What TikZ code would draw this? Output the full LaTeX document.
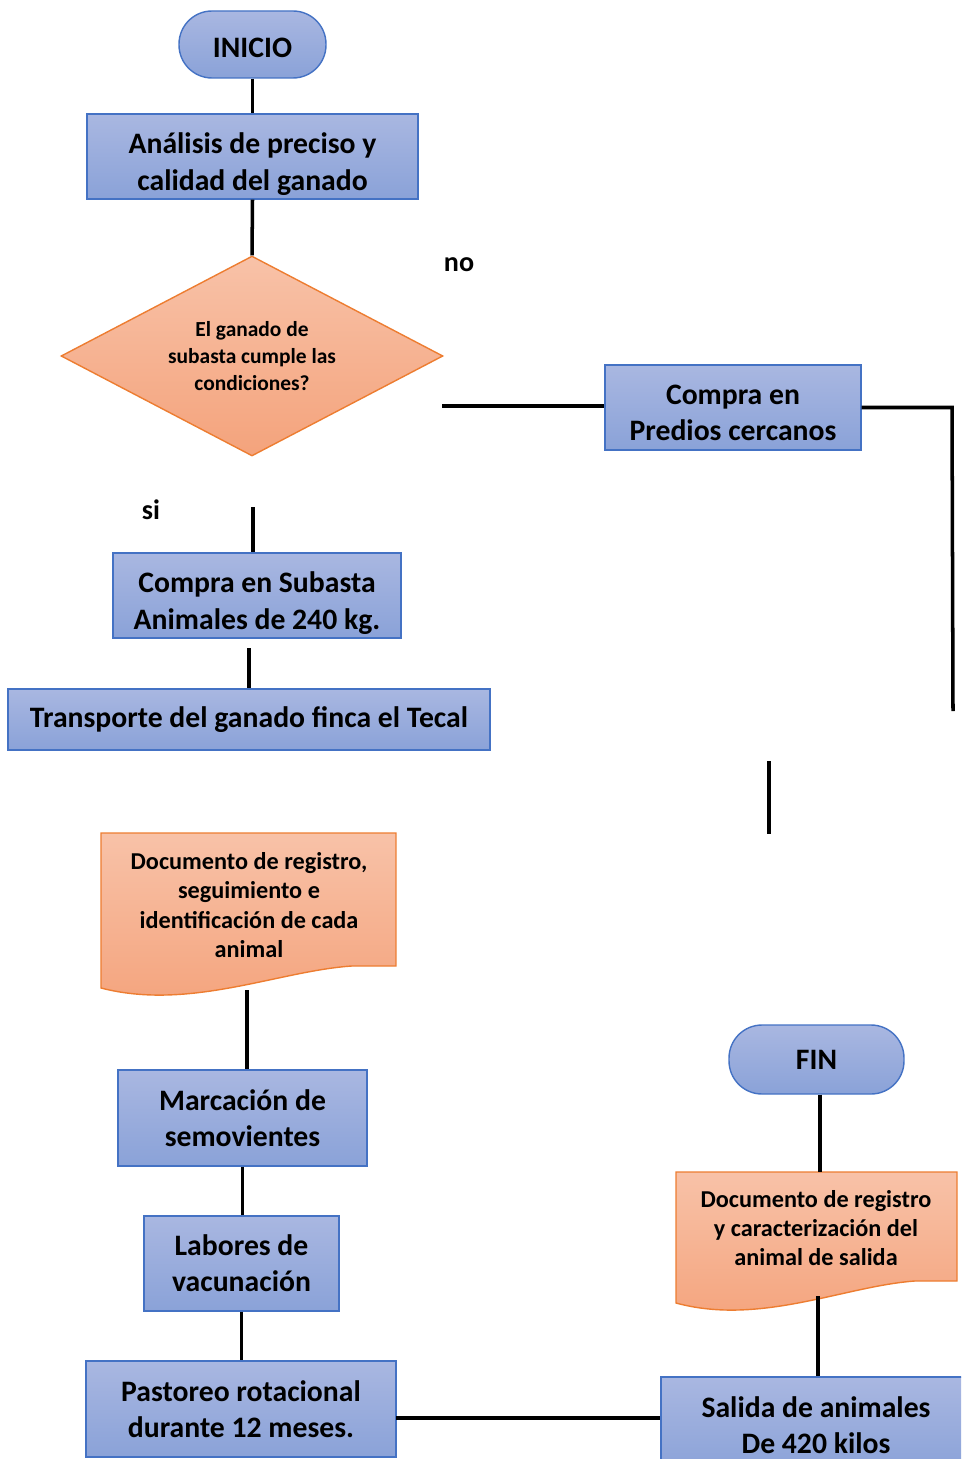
\documentclass[tikz,border=0pt]{standalone}
\usepackage{fontspec}
\setmainfont{Carlito}
\usepackage{tikz}
\usetikzlibrary{calc}
\usetikzlibrary{shapes.geometric}
\definecolor{bluetop}{HTML}{A9B7E1}
\definecolor{bluebot}{HTML}{8AA2D8}
\definecolor{blueline}{HTML}{4472C4}
\definecolor{ortop}{HTML}{F8C2A8}
\definecolor{orbot}{HTML}{F4A37C}
\definecolor{orline}{HTML}{ED7D31}
\newcommand{\boxfont}{\bfseries\fontsize{16.9}{20.6}\selectfont}
\newcommand{\docfont}{\bfseries\fontsize{13.8}{16.6}\selectfont}
\newcommand{\lift}[1][20.5pt]{\rule{0pt}{#1}}
\newcommand{\docshape}[4]{ \shadedraw[docfill] ( #1 , #2 ) -- ( #3 , #2 ) -- ( #3 , #4 ) -- ( {#1+0.85*(#3-#1)} , #4 ) .. controls ( {#1+0.6*(#3-#1)} , {#4+5} ) and ( {#1+0.3*(#3-#1)} , {#4+45} ) .. ( #1 , {#4+22} ) -- cycle;}
\tikzset{
  procbox/.style={rectangle, draw=blueline, line width=0.8pt, top color=bluetop, bottom color=bluebot, font=\boxfont, align=center, inner sep=0pt},
  termbox/.style={procbox, rounded corners=0.66cm},
  decbox/.style={diamond, draw=orline, line width=0.8pt, top color=ortop, bottom color=orbot, font=\bfseries\fontsize{12.2}{15.3}\selectfont, align=center, inner sep=0pt, aspect=1.91},
  docfill/.style={draw=orline, line width=0.8pt, top color=ortop, bottom color=orbot},
  doctext/.style={font=\docfont, align=center, inner sep=0pt},
  link/.style={line width=2pt, black},
  branchlbl/.style={font=\bfseries\fontsize{16}{19}\selectfont, inner sep=0pt}
}
\begin{document}
\begin{tikzpicture}[x=0.02cm, y=-0.02cm]
        \path[use as bounding box, clip] (0,0) rectangle (961,1459);

        % left column
        \node[termbox, minimum width=2.94cm, minimum height=1.34cm] (inicio) at (252.5,44.5) {\lift[15pt]INICIO};
        \node[procbox, minimum width=6.62cm, minimum height=1.70cm] (analisis) at (252.5,156.5) {\lift Análisis de preciso y\\ calidad del ganado};
        \node[decbox, minimum width=7.64cm, minimum height=4cm] (cond) at (252,356) {El ganado de\\ subasta cumple las\\ condiciones?};
        \node[procbox, minimum width=5.76cm, minimum height=1.70cm] (subasta) at (257,595.5) {\lift Compra en Subasta\\ Animales de 240 kg.};
        \node[procbox, minimum width=9.64cm, minimum height=1.22cm] (transporte) at (249,719.5) {Transporte del ganado finca el Tecal};
        \docshape{101}{833}{396}{966}
        \node[doctext] (registro) at (249,905) {Documento de registro,\\ seguimiento e\\ identificación de cada\\ animal};
        \node[procbox, minimum width=4.98cm, minimum height=1.92cm] (marcacion) at (242.5,1118) {Marcación de\\ semovientes};
        \node[procbox, minimum width=3.90cm, minimum height=1.90cm] (labores) at (241.5,1263.5) {Labores de\\ vacunación};
        \node[procbox, minimum width=6.20cm, minimum height=1.92cm] (pastoreo) at (241,1409) {Pastoreo rotacional\\ durante 12 meses.};

        % right column
        \node[procbox, minimum width=5.12cm, minimum height=1.70cm] (predios) at (733,407.5) {\lift[17pt]Compra en\\ Predios cercanos};
        \node[termbox, minimum width=3.50cm, minimum height=1.38cm] (fin) at (816.5,1059.5) {FIN};
        \docshape{676}{1172}{957}{1281}
        \node[doctext] (caracter) at (816,1228) {Documento de registro\\ y caracterización del\\ animal de salida};
        \node[procbox, minimum width=6.20cm, minimum height=1.92cm] (salida) at (816,1425) {Salida de animales\\ De 420 kilos};

        % labels
        \node[branchlbl] (no) at (459,265) {no};
        \node[branchlbl] (si) at (151,510) {si};

        % free ends
        \coordinate (nostart) at (442,406);
        \coordinate (rtop) at (952,407.5);
        \coordinate (rbot) at (953,711);
        \coordinate (gaptop) at (769,761);
        \coordinate (gapbot) at (769,834);
        \coordinate (sistart) at (253,507);
        \coordinate (substart) at (249,648);
        \coordinate (regend) at (247,990);
        \coordinate (pastend) at (396,1418);
        \coordinate (fintop) at (820,1172);
        \coordinate (carend) at (818,1296);

        % connectors
        \draw[link] (inicio.south) -- (analisis.north);
        \draw[link] (analisis.south) -- (cond.north);
        \draw[link] (nostart) -- (nostart -| predios.west);
        \draw[link] (predios.east) -- (rtop) -- (rbot);
        \draw[link] (gaptop) -- (gapbot);
        \draw[link] (sistart) -- (sistart |- subasta.north);
        \draw[link] (substart) -- (substart |- transporte.north);
        \draw[link] (regend) -- (regend |- marcacion.north);
        \draw[link] (marcacion.south) -- (marcacion.south |- labores.north);
        \draw[link] (labores.south) -- (labores.south |- pastoreo.north);
        \draw[link] (pastend) -- (pastend -| salida.west);
        \draw[link] (fintop |- fin.south) -- (fintop);
        \draw[link] (carend) -- (carend |- salida.north);
    \end{tikzpicture}
\end{document}
